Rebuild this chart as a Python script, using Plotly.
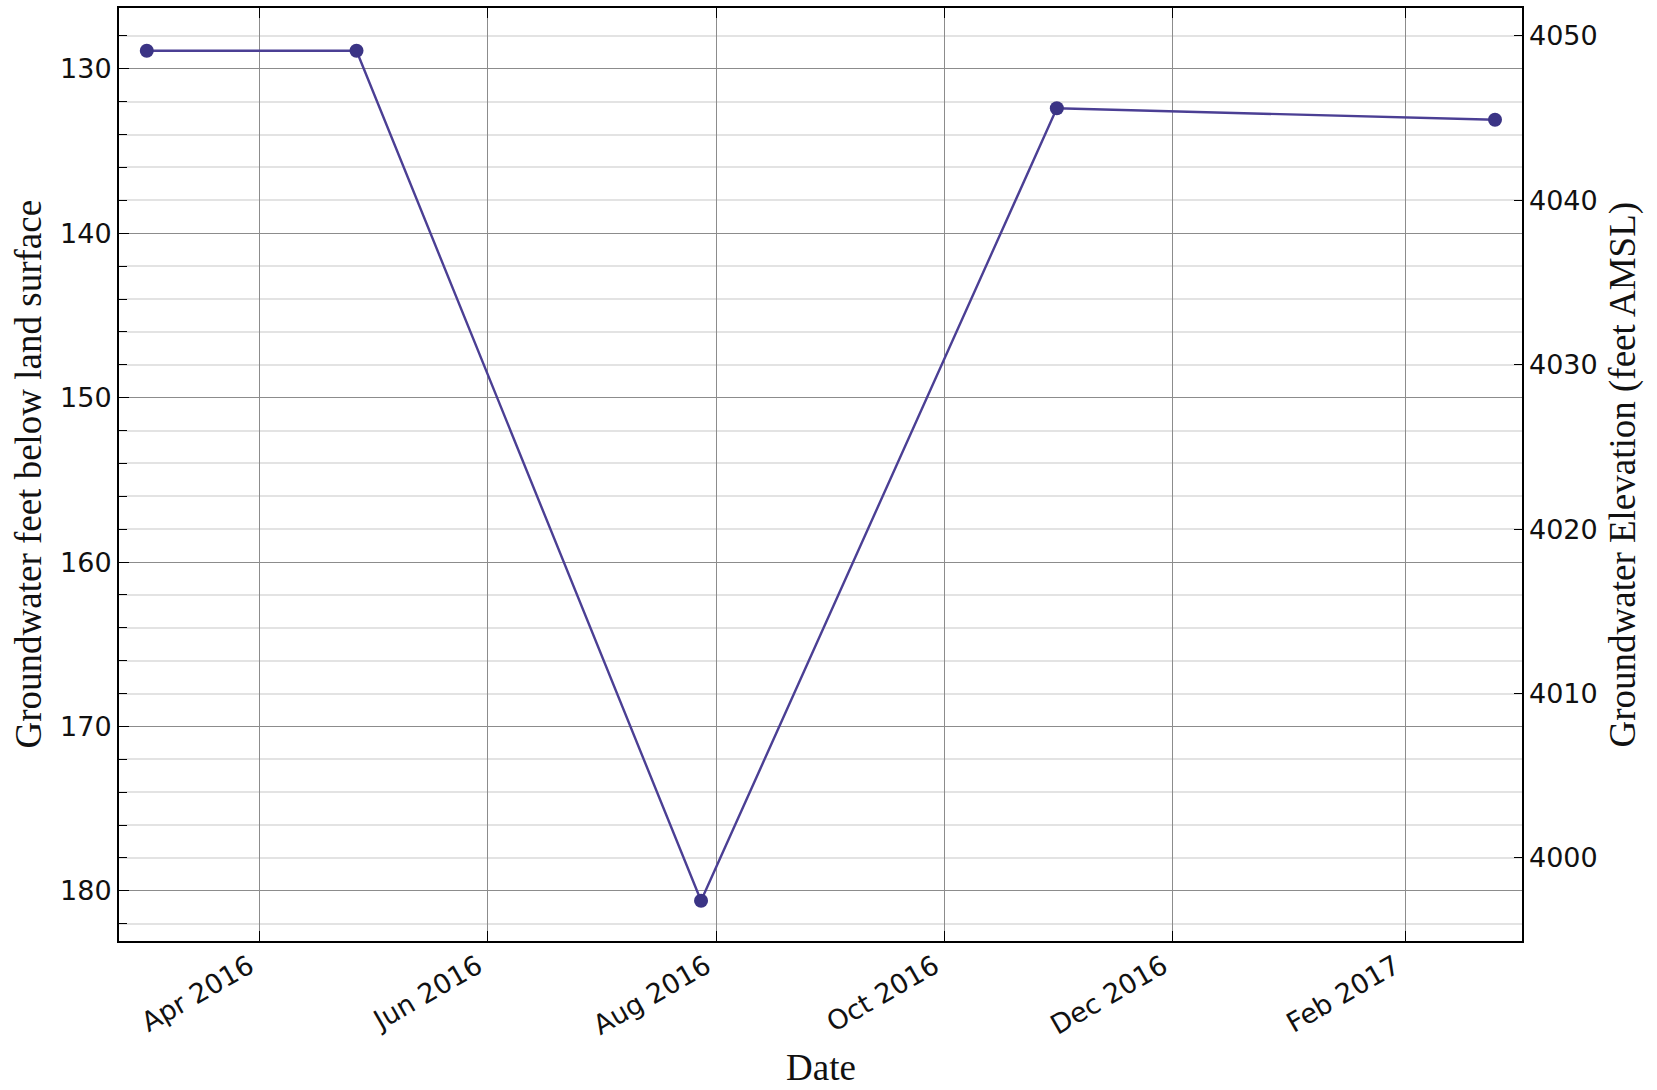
import plotly.graph_objects as go

# measurement dates and depth to water (feet below land surface)
dates = ["2016-03-02", "2016-04-27", "2016-07-28", "2016-10-31", "2017-02-25"]
depth_ft = [128.9, 128.9, 180.6, 132.4, 133.1]
land_surface_elev = 4178  # feet AMSL, used for the right-hand axis

elevation_ft = [land_surface_elev - d for d in depth_ft]

depth_range = [183.05, 126.3]
elev_range = [land_surface_elev - depth_range[0], land_surface_elev - depth_range[1]]

tick_font = dict(family="DejaVu Sans", size=27, color="#111111")
title_font = dict(family="Liberation Serif", size=37, color="#111111")

fig = go.Figure()

fig.add_trace(
    go.Scatter(
        x=dates,
        y=depth_ft,
        mode="lines+markers",
        line=dict(color="#4b3f94", width=2.4),
        marker=dict(color="#3b3485", size=14),
        showlegend=False,
    )
)
# same series on the elevation axis, not drawn (keeps the right axis alive)
fig.add_trace(
    go.Scatter(
        x=dates,
        y=elevation_ft,
        yaxis="y2",
        mode="lines",
        line=dict(width=0),
        opacity=0,
        hoverinfo="skip",
        showlegend=False,
    )
)

fig.update_layout(
    width=1657,
    height=1090,
    autosize=False,
    margin=dict(l=119, r=135, t=6, b=149),
    plot_bgcolor="white",
    paper_bgcolor="white",
    xaxis=dict(
        range=["2016-02-23 14:00", "2017-03-04 05:00"],
        tick0="2016-04-01",
        dtick="M2",
        tickformat="%b %Y",
        tickangle=-30,
        tickfont=tick_font,
        ticklabelshift=-10,
        ticklabelstandoff=-3,
        ticks="inside",
        ticklen=10,
        tickcolor="black",
        showgrid=True,
        gridcolor="#8c8c8c",
        gridwidth=1,
        showline=True,
        linecolor="black",
        linewidth=2,
        mirror="ticks",
        zeroline=False,
    ),
    yaxis=dict(
        range=depth_range,
        dtick=10,
        tick0=0,
        tickfont=tick_font,
        ticks="inside",
        ticklen=10,
        tickcolor="black",
        showgrid=True,
        gridcolor="#8c8c8c",
        gridwidth=1,
        minor=dict(
            dtick=2,
            ticks="inside",
            ticklen=8,
            tickcolor="black",
            showgrid=True,
            gridcolor="#e3e3e3",
            gridwidth=1.5,
        ),
        showline=True,
        linecolor="black",
        linewidth=2,
        mirror=True,
        zeroline=False,
    ),
    yaxis2=dict(
        overlaying="y",
        side="right",
        range=elev_range,
        dtick=10,
        tick0=0,
        tickfont=tick_font,
        ticklabelstandoff=6,
        ticks="inside",
        ticklen=8,
        tickcolor="black",
        showgrid=False,
        showline=False,
        zeroline=False,
    ),
    annotations=[
        dict(
            text="Date",
            xref="paper",
            yref="paper",
            x=0.5,
            y=(941 - 1068) / 935,
            xanchor="center",
            yanchor="middle",
            showarrow=False,
            font=title_font,
        ),
        dict(
            text="Groundwater feet below land surface",
            xref="paper",
            yref="paper",
            x=(28 - 119) / 1403,
            y=0.5,
            textangle=-90,
            xanchor="center",
            yanchor="middle",
            showarrow=False,
            font=title_font,
        ),
        dict(
            text="Groundwater Elevation (feet AMSL)",
            xref="paper",
            yref="paper",
            x=(1622 - 119) / 1403,
            y=0.5,
            textangle=-90,
            xanchor="center",
            yanchor="middle",
            showarrow=False,
            font=title_font,
        ),
    ],
)

# drop the browser's default body margin so the figure sits at the page corner
fig.write_html(
    "out.html",
    config={"displayModeBar": False},
    post_script="document.body.style.margin = '0';",
)
